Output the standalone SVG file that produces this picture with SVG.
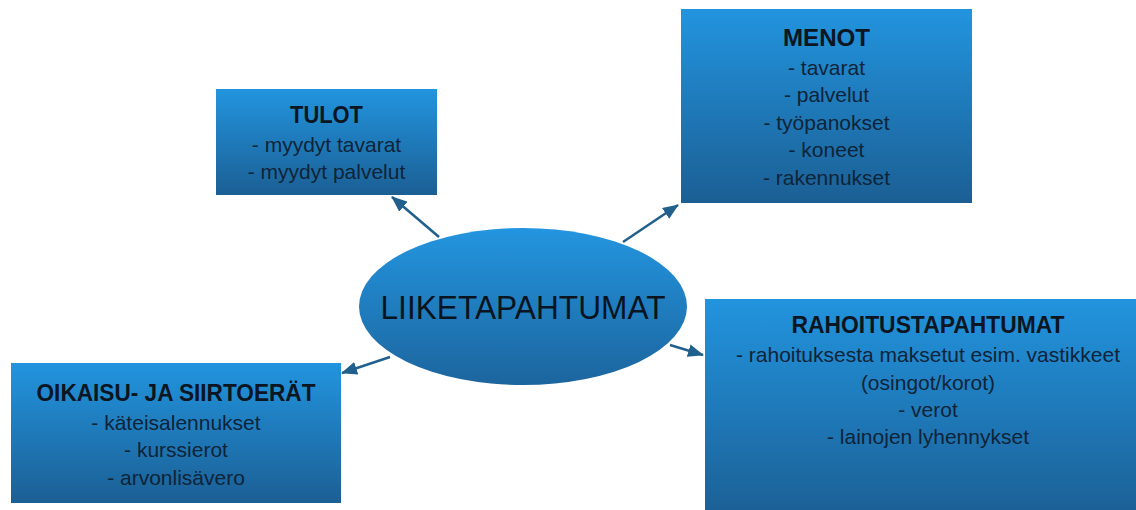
<svg xmlns="http://www.w3.org/2000/svg" width="1136" height="510" viewBox="0 0 1136 510">
<defs>
<linearGradient id="boxGrad" x1="0" y1="0" x2="0" y2="1">
<stop offset="0" stop-color="#2294de"/>
<stop offset="1" stop-color="#1b5f94"/>
</linearGradient>
<linearGradient id="ellGrad" x1="0" y1="0" x2="0" y2="1">
<stop offset="0" stop-color="#2395df"/>
<stop offset="1" stop-color="#1c659e"/>
</linearGradient>
<marker id="arrowHead" viewBox="0 0 16 13" refX="15" refY="6.5" markerWidth="16" markerHeight="13" markerUnits="userSpaceOnUse" orient="auto">
<path d="M0,0 L16,6.5 L0,13 z" fill="#215f8c"/>
</marker>
</defs>
<style>
.box{fill:url(#boxGrad);}
.ell{fill:url(#ellGrad);}
.h{font-family:"Liberation Sans",Arial,sans-serif;font-weight:bold;font-size:23px;fill:#0b1622;text-anchor:middle;}
.t{font-family:"Liberation Sans",Arial,sans-serif;font-size:21px;fill:#0f2438;text-anchor:middle;}
.main{font-family:"Liberation Sans",Arial,sans-serif;font-size:33px;fill:#0a1420;text-anchor:middle;}
.conn{stroke:#215f8c;stroke-width:2.5;fill:none;marker-end:url(#arrowHead);}
</style>
<rect width="1136" height="510" fill="#ffffff"/>
<g id="connectors">
<line class="conn" x1="439" y1="237" x2="392" y2="197"/>
<line class="conn" x1="623" y1="242" x2="678" y2="205"/>
<line class="conn" x1="390" y1="357" x2="342" y2="373"/>
<line class="conn" x1="670" y1="345" x2="703" y2="355"/>
</g>
<g id="tulot">
<rect class="box" x="216" y="89" width="221" height="106"/>
<text class="h" x="326.5" y="123" textLength="73" lengthAdjust="spacingAndGlyphs">TULOT</text>
<text class="t" x="326.5" y="152">- myydyt tavarat</text>
<text class="t" x="326.5" y="179">- myydyt palvelut</text>
</g>
<g id="menot">
<rect class="box" x="681" y="9" width="291" height="194"/>
<text class="h" x="826.5" y="46" textLength="87" lengthAdjust="spacingAndGlyphs">MENOT</text>
<text class="t" x="826.5" y="75">- tavarat</text>
<text class="t" x="826.5" y="102">- palvelut</text>
<text class="t" x="826.5" y="130">- työpanokset</text>
<text class="t" x="826.5" y="157">- koneet</text>
<text class="t" x="826.5" y="185">- rakennukset</text>
</g>
<g id="oikaisu">
<rect class="box" x="11" y="363" width="330" height="140"/>
<text class="h" x="176" y="401" textLength="279" lengthAdjust="spacingAndGlyphs">OIKAISU- JA SIIRTOERÄT</text>
<text class="t" x="176" y="430">- käteisalennukset</text>
<text class="t" x="176" y="457">- kurssierot</text>
<text class="t" x="176" y="485">- arvonlisävero</text>
</g>
<g id="rahoitus">
<rect class="box" x="705" y="299" width="446" height="220"/>
<text class="h" x="928" y="333" textLength="273" lengthAdjust="spacingAndGlyphs">RAHOITUSTAPAHTUMAT</text>
<text class="t" x="928" y="362">- rahoituksesta maksetut esim. vastikkeet</text>
<text class="t" x="928" y="390">(osingot/korot)</text>
<text class="t" x="928" y="417">- verot</text>
<text class="t" x="928" y="444">- lainojen lyhennykset</text>
</g>
<g id="liiketapahtumat">
<ellipse class="ell" cx="523" cy="306.5" rx="164" ry="78.5"/>
<text class="main" x="523" y="319" textLength="285" lengthAdjust="spacingAndGlyphs">LIIKETAPAHTUMAT</text>
</g>
</svg>
